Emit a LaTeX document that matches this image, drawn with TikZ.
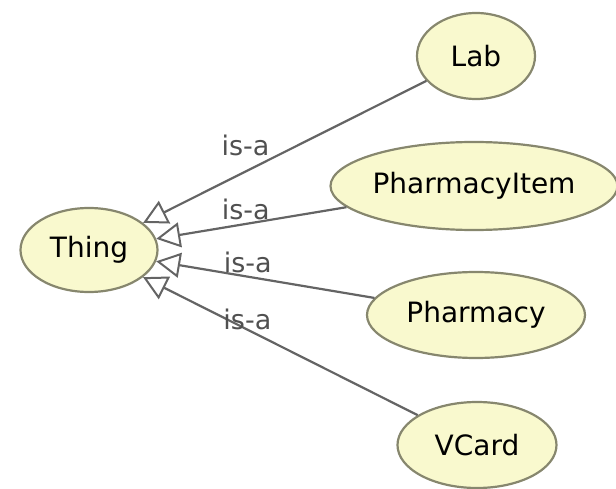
\documentclass[tikz,border=0pt]{standalone}
\usepackage{fontspec}
\setmainfont{DejaVu Sans}
\usetikzlibrary{shapes.geometric,arrows.meta}
\definecolor{clsfill}{RGB}{249,249,206}
\definecolor{clsdraw}{RGB}{135,135,110}
\definecolor{isaline}{RGB}{100,100,100}
\definecolor{isatext}{RGB}{80,80,80}
\begin{document}
\begin{tikzpicture}[x=1pt, y=-1pt,
  cls/.style={ellipse, draw=clsdraw, fill=clsfill, line width=2.2pt, inner sep=0pt,
    font=\fontsize{28}{32}\selectfont},
  isa/.style={draw=isaline, line width=2.2pt,
    -{Triangle[open, length=24pt, width=25pt, line width=2pt]}},
  isalabel/.style={text=isatext, inner sep=0pt, font=\fontsize{27}{30}\selectfont}]

\useasboundingbox (0,0) rectangle (616,489);

%--- root class ---
\node[cls, minimum width=137pt, minimum height=84pt] (thing) at (89,250) {Thing};

%--- subclasses ---
\node[cls, minimum width=118pt, minimum height=86pt] (lab) at (476,56) {Lab};
\node[cls, minimum width=282pt, minimum height=88pt] (pharmitem) at (474,186) {PharmacyItem};
\node[cls, minimum width=218pt, minimum height=86pt] (pharmacy) at (476,315) {Pharmacy};
\node[cls, minimum width=159pt, minimum height=86pt] (vcard) at (477,445) {VCard};

%--- is-a edges ---
\draw[isa] (lab) -- node[isalabel, pos=0.55, anchor=base east, yshift=3pt] {is-a} (thing);
\draw[isa] (pharmitem) -- node[isalabel, pos=0.398, anchor=base east] {is-a} (thing);
\draw[isa] (pharmacy) -- node[isalabel, pos=0.695, anchor=base west] {is-a} (thing);
\draw[isa] (vcard) -- node[isalabel, pos=0.62, anchor=base] {is-a} (thing);

\end{tikzpicture}
\end{document}
